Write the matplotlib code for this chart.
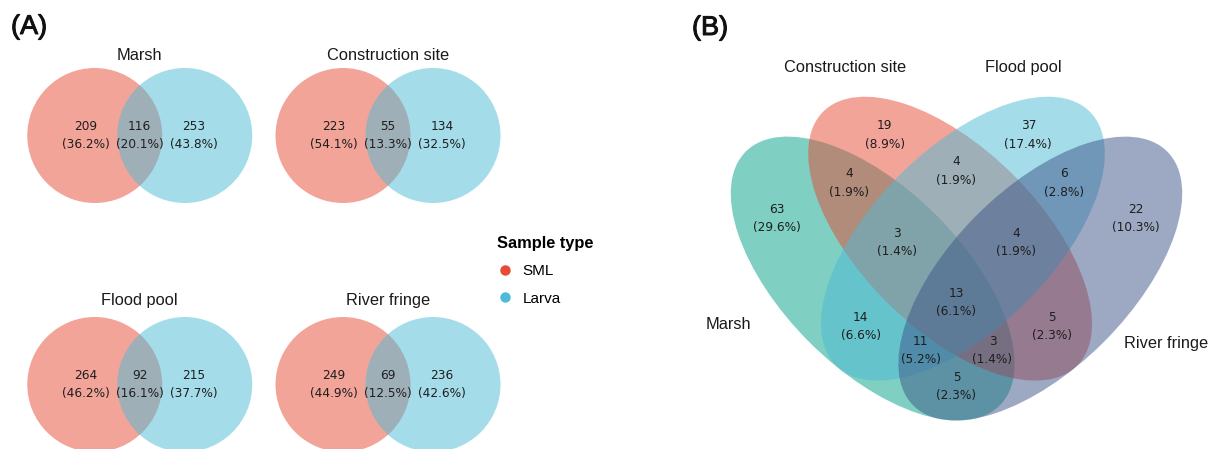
import matplotlib.pyplot as plt
import matplotlib.patheffects as pe
from matplotlib.patches import Ellipse, Circle
from matplotlib.lines import Line2D

# ---- data ----
# panel A: SML only / shared / Larva only
habitats = ['Marsh', 'Construction site', 'Flood pool', 'River fringe']
sml_only = [209, 223, 264, 249]
shared = [116, 55, 92, 69]
larva_only = [253, 134, 215, 236]

# panel B: 4-set venn counts (A=Marsh, B=Construction site, C=Flood pool, D=River fringe)
region_keys = ['A', 'B', 'C', 'D', 'AB', 'BC', 'CD', 'AC', 'BD', 'AD',
               'ABC', 'BCD', 'ACD', 'ABD', 'ABCD']
region_counts = [63, 19, 37, 22, 4, 4, 6, 14, 5, 5, 3, 4, 11, 3, 13]

sample_types = ['SML', 'Larva']

# ---- style ----
npg = {'red': '#E64B35', 'blue': '#4DBBD5', 'green': '#00A087', 'navy': '#3C5488'}
num_font = 'DejaVu Sans'
lab_font = 'Liberation Sans'
num_size = 8.7
lab_size = 11.8
txt_col = '#1e1e1e'

W, H = 1210, 449
fig = plt.figure(figsize=(W / 100, H / 100), dpi=100)


def venn_axes(cx, cy, scale, xlim, ylim):
    # cx, cy: pixel position of the venn origin, scale: px per unit
    left = (cx + xlim[0] * scale) / W
    bottom = 1 - (cy - ylim[0] * scale) / H
    ax = fig.add_axes([left, bottom, (xlim[1] - xlim[0]) * scale / W,
                       (ylim[1] - ylim[0]) * scale / H])
    ax.set_xlim(*xlim)
    ax.set_ylim(*ylim)
    ax.axis('off')
    return ax


def pct_label(n, total):
    return f'{n}\n({n / total * 100:.1f}%)'


# ---- panel A ----
origins_A = [(139.75, 135.5), (388, 135.5), (139.75, 384.5), (388, 384.5)]
title_dy = [1.19, 1.19, 1.25, 1.25]
sA = 67.5
for i, name in enumerate(habitats):
    ax = venn_axes(origins_A[i][0], origins_A[i][1], sA, (-1.75, 1.75), (-1.02, 1.35))
    ax.add_patch(Circle((-2 / 3, 0), 1, facecolor=npg['red'], alpha=0.5, lw=0, clip_on=False))
    ax.add_patch(Circle((2 / 3, 0), 1, facecolor=npg['blue'], alpha=0.5, lw=0, clip_on=False))
    total = sml_only[i] + shared[i] + larva_only[i]
    for x, n in zip([-0.8, 0, 0.8], [sml_only[i], shared[i], larva_only[i]]):
        ax.text(x, 0, pct_label(n, total), ha='center', va='center', fontsize=num_size,
                family=num_font, color=txt_col, linespacing=1.55)
    ax.text(0, title_dy[i], name, ha='center', va='center', fontsize=lab_size,
            family=lab_font, color='#1a1a1a')

# legend
leg_handles = [Line2D([], [], marker='o', ls='', ms=7.5, color=c, markeredgewidth=0)
               for c in [npg['red'], npg['blue']]]
leg = fig.legend(leg_handles, sample_types, loc='upper left', bbox_to_anchor=(483 / W, 1 - 222 / H),
                 frameon=False, title='Sample type', alignment='left',
                 prop={'family': lab_font, 'size': 11}, handletextpad=0.6, labelspacing=0.88,
                 handlelength=1.1)
leg.get_title().set_fontfamily(lab_font)
leg.get_title().set_fontsize(11.8)
leg.get_title().set_fontweight('bold')

# ---- panel B ----
sB = 119.7
axB = venn_axes(956.5, 218.7, sB, (-2.1, 2.1), (-1.75, 1.75))
ellipses = [(-0.7, -0.5, 45, npg['green']),
            (-0.72 + 2 / 3, -1 / 6, 45, npg['red']),
            (0.72 - 2 / 3, -1 / 6, -45, npg['blue']),
            (0.7, -0.5, -45, npg['navy'])]
for x, y, ang, c in ellipses:
    axB.add_patch(Ellipse((x, y), 1.5, 3.0, angle=ang, facecolor=c, alpha=0.5, lw=0, clip_on=False))

text_pos = {'A': (-1.5, 0), 'B': (-0.6, 0.7), 'C': (0.6, 0.7), 'D': (1.5, 0),
            'AB': (-0.9, 0.3), 'BC': (0, 0.4), 'CD': (0.9, 0.3),
            'AC': (-0.8, -0.9), 'BD': (0.8, -0.9), 'AD': (0, -1.4),
            'ABC': (-0.5, -0.2), 'BCD': (0.5, -0.2), 'ACD': (-0.3, -1.1),
            'ABD': (0.3, -1.1), 'ABCD': (0, -0.7)}
totalB = sum(region_counts)
for k, n in zip(region_keys, region_counts):
    x, y = text_pos[k]
    axB.text(x, y, pct_label(n, totalB), ha='center', va='center', fontsize=num_size,
             family=num_font, color=txt_col, linespacing=1.55)

set_labels = [('Marsh', -2.095, -0.88, 'left'), ('Construction site', -0.93, 1.26, 'center'),
              ('Flood pool', 0.56, 1.26, 'center'), ('River fringe', 1.40, -1.04, 'left')]
for name, x, y, ha in set_labels:
    axB.text(x, y, name, ha=ha, va='center', fontsize=lab_size, family=lab_font, color='#1a1a1a')

# panel tags (slightly heavier than regular)
tag_fx = [pe.withStroke(linewidth=0.7, foreground='#111111')]
fig.text(11 / W, 1 - 27 / H, '(A)', fontsize=19.5, family=lab_font,
         ha='left', va='center', color='#111111', path_effects=tag_fx)
fig.text(692 / W, 1 - 28 / H, '(B)', fontsize=19.5, family=lab_font,
         ha='left', va='center', color='#111111', path_effects=tag_fx)

fig.savefig('out.png', dpi=100, facecolor='white')
